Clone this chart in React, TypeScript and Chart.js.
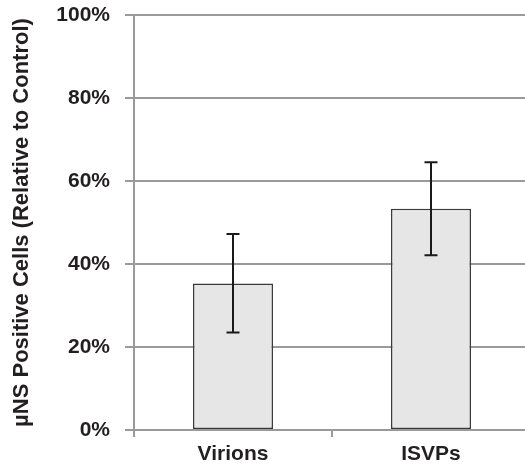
import React, { useEffect, useRef } from "react";
import { Chart, registerables } from "chart.js";

Chart.register(...registerables);

const categories = ["Virions", "ISVPs"];
const meanValues = [35.3, 53.3];
const errorLow = [23.5, 42.1];
const errorHigh = [47.2, 64.5];
const yTicks = [0, 20, 40, 60, 80, 100];
const yTitle = "\u00b5NS Positive Cells (Relative to Control)";

const FONT = "'Liberation Sans', Arial, Helvetica, sans-serif";
const GRID = "#9a9a9a";
const TEXT = "#231f20";

const errorBarPlugin = {
  id: "errorBars",
  afterDatasetsDraw(chart: any) {
    const meta = chart.getDatasetMeta(0);
    const yScale = chart.scales.y;
    const ctx = chart.ctx;
    ctx.save();
    ctx.strokeStyle = "#1a1a1a";
    ctx.lineWidth = 2;
    meta.data.forEach((bar: any, i: number) => {
      const x = bar.x;
      const yLo = yScale.getPixelForValue(errorLow[i]);
      const yHi = yScale.getPixelForValue(errorHigh[i]);
      const cap = 6.5;
      ctx.beginPath();
      ctx.moveTo(x, yLo);
      ctx.lineTo(x, yHi);
      ctx.moveTo(x - cap, yHi);
      ctx.lineTo(x + cap, yHi);
      ctx.moveTo(x - cap, yLo);
      ctx.lineTo(x + cap, yLo);
      ctx.stroke();
    });
    ctx.restore();
  },
};

export default function App() {
  const ref = useRef<HTMLCanvasElement | null>(null);
  useEffect(() => {
    if (!ref.current) return;
    const chart = new Chart(ref.current, {
      type: "bar",
      data: {
        labels: categories,
        datasets: [
          {
            data: meanValues,
            backgroundColor: "#e6e6e6",
            borderColor: "#3a3a3a",
            borderWidth: 1.5,
            borderSkipped: false,
            barPercentage: 0.404,
            categoryPercentage: 1,
          },
        ],
      },
      options: {
        animation: false,
        responsive: true,
        maintainAspectRatio: false,
        layout: { padding: { top: 15, right: 0, left: 0, bottom: 0 } },
        plugins: { legend: { display: false }, tooltip: { enabled: false } },
        scales: {
          x: {
            offset: true,
            grid: {
              offset: true,
              drawOnChartArea: false,
              drawTicks: true,
              tickLength: 7,
              color: GRID,
              lineWidth: 2,
            },
            border: { display: true, color: GRID, width: 2 },
            ticks: {
              color: TEXT,
              padding: 5,
              font: { family: FONT, size: 21, weight: "bold" },
            },
            afterFit: (s: any) => {
              s.height = 44;
              s.paddingLeft = 0;
              s.paddingRight = 0;
            },
          },
          y: {
            min: 0,
            max: 100,
            afterBuildTicks: (s: any) => {
              s.ticks = yTicks.map((v) => ({ value: v }));
            },
            grid: {
              color: GRID,
              lineWidth: 2,
              drawTicks: true,
              tickLength: 9,
            },
            border: { display: true, color: GRID, width: 2 },
            ticks: {
              color: TEXT,
              padding: 15,
              font: { family: FONT, size: 21, weight: "bold" },
              callback: (v: any) => v + "%",
            },
            title: {
              display: true,
              text: yTitle,
              color: TEXT,
              font: { family: FONT, size: 22, weight: "bold" },
              padding: { top: 9, bottom: 0 },
            },
            afterFit: (s: any) => {
              s.width = 134;
              s.paddingTop = 0;
              s.paddingBottom = 0;
            },
          },
        },
      },
      plugins: [errorBarPlugin],
    });
    return () => chart.destroy();
  }, []);
  return (
    <div style={{ position: "fixed", left: 0, top: 0, width: 525, height: 474, overflow: "hidden", background: "#fff" }}>
      <div style={{ position: "absolute", left: 0, top: 0, width: 530, height: 474 }}>
        <canvas ref={ref} />
      </div>
    </div>
  );
}
